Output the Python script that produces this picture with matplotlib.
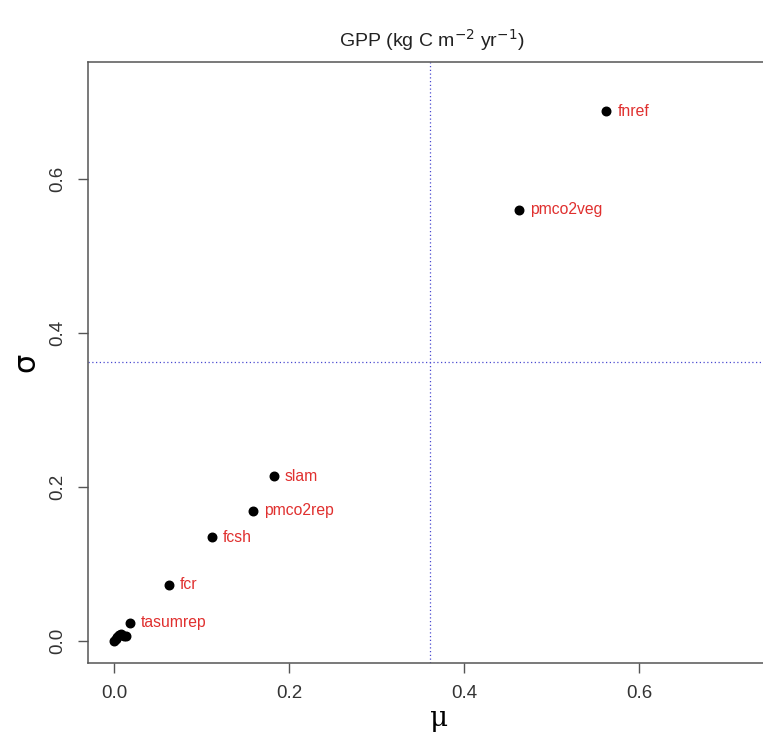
import matplotlib
matplotlib.use('Agg')
import matplotlib.pyplot as plt

plt.rcParams.update({
    'font.family': 'sans-serif',
    'font.sans-serif': ['Liberation Sans', 'DejaVu Sans'],
    'font.size': 11
})

# labelled parameters
names = ['fnref', 'pmco2veg', 'slam', 'pmco2rep', 'fcsh', 'fcr', 'tasumrep']
mu = [0.5625, 0.462, 0.1825, 0.1586, 0.1118, 0.0627, 0.018]
sigma = [0.688, 0.560, 0.214, 0.169, 0.135, 0.0727, 0.0234]

# unlabelled parameters near the origin
mu_small = [0.000, 0.002, 0.004, 0.006, 0.008, 0.011, 0.014]
sigma_small = [0.000, 0.003, 0.005, 0.008, 0.009, 0.007, 0.007]

mu_ref = 0.3605
sigma_ref = 0.362

fig = plt.figure(figsize=(7.63, 7.42), dpi=100)
ax = fig.add_axes([0.1153, 0.1065, 0.92, 0.8099])

ax.scatter(mu + mu_small, sigma + sigma_small, s=38, color='black', zorder=3)
for x, y, name in zip(mu, sigma, names):
    ax.annotate(name, (x, y), xytext=(8, 0), textcoords='offset points',
                ha='left', va='center', color='#e0302f', fontsize=11.3)

ax.axvline(mu_ref, color='#4a4ad0', linestyle=(0, (1, 2)), linewidth=0.9)
ax.axhline(sigma_ref, color='#4a4ad0', linestyle=(0, (1, 2)), linewidth=0.9)

ax.set_xlim(-0.0297, 0.772)
ax.set_ylim(-0.0286, 0.752)
ax.set_xticks([0.0, 0.2, 0.4, 0.6])
ax.set_xticklabels(['0.0', '0.2', '0.4', '0.6'])
ax.set_yticks([0.0, 0.2, 0.4, 0.6])
ax.set_yticklabels(['0.0', '0.2', '0.4', '0.6'], rotation=90, va='center')

for sp in ax.spines.values():
    sp.set_color('#555555')
    sp.set_linewidth(1.1)
ax.tick_params(direction='out', length=7, width=1, color='#555555',
               labelsize=13.5, labelcolor='#333333', pad=9)

ax.set_xlabel('μ', family='DejaVu Serif', fontsize=20, labelpad=2)
ax.set_ylabel('σ', family='DejaVu Sans', fontsize=22, labelpad=6)
fig.text(0.566, 0.946, 'GPP (kg C m$^{-2}$ yr$^{-1}$)', ha='center', va='center',
         fontsize=14, color='#222222')

fig.savefig('out.png', dpi=100)
plt.close(fig)
